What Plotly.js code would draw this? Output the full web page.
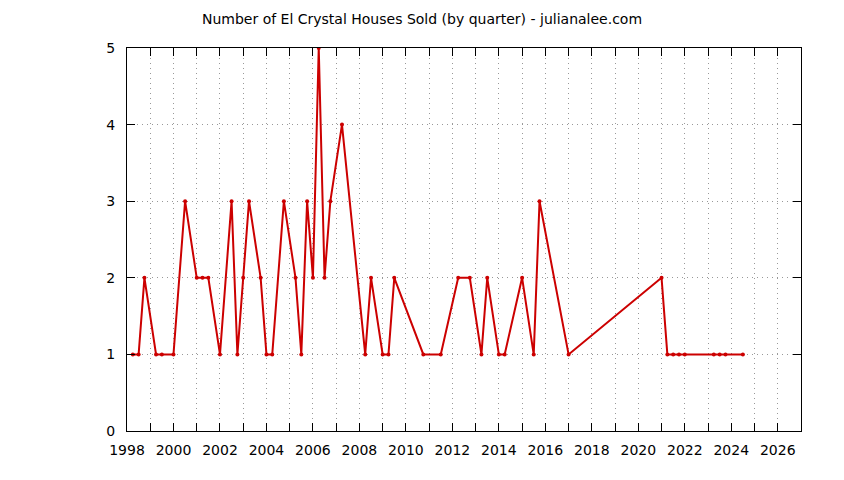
<!DOCTYPE html>
<html>
<head>
<meta charset="utf-8">
<script src="https://cdn.plot.ly/plotly-3.0.1.min.js"></script>
<style>
  html, body { margin: 0; padding: 0; background: white; }
  #chart { width: 844px; height: 480px; }
</style>
</head>
<body>
<div id="chart"></div>
<script>
// quarter (as decimal year) and houses sold
const quarters = [
  1998.25, 1998.5, 1998.75, 1999.25, 1999.5, 2000.0, 2000.5, 2001.0, 2001.25, 2001.5,
  2002.0, 2002.5, 2002.75, 2003.0, 2003.25, 2003.75, 2004.0, 2004.25, 2004.75, 2005.25,
  2005.5, 2005.75, 2006.0, 2006.25, 2006.5, 2006.75, 2007.25, 2008.25, 2008.5, 2009.0,
  2009.25, 2009.5, 2010.75, 2011.5, 2012.25, 2012.75, 2013.25, 2013.5, 2014.0, 2014.25,
  2015.0, 2015.5, 2015.75, 2017.0, 2021.0, 2021.25, 2021.5, 2021.75, 2022.0, 2023.25,
  2023.5, 2023.75, 2024.5
];
const sold = [
  1, 1, 2, 1, 1, 1, 3, 2, 2, 2,
  1, 3, 1, 2, 3, 2, 1, 1, 3, 2,
  1, 3, 2, 5, 2, 3, 4, 1, 2, 1,
  1, 2, 1, 1, 2, 2, 1, 2, 1, 1,
  2, 1, 3, 1, 2, 1, 1, 1, 1, 1,
  1, 1, 1
];

// ticks every year, labels every two years
const tickYears = [];
const tickLabels = [];
for (let y = 1998; y <= 2027; y++) {
  tickYears.push(y);
  tickLabels.push(y % 2 === 0 ? String(y) : '');
}

const trace = {
  type: 'scatter',
  mode: 'lines+markers',
  x: quarters,
  y: sold,
  line: { color: '#cc0000', width: 2 },
  marker: { color: '#cc0000', size: 4 },
  hoverinfo: 'x+y'
};

const layout = {
  width: 844,
  height: 480,
  margin: { t: 48, l: 127, r: 43, b: 49 },
  paper_bgcolor: 'white',
  plot_bgcolor: 'white',
  showlegend: false,
  font: { family: 'DejaVu Sans, sans-serif', size: 14, color: 'black' },
  title: {
    text: 'Number of El Crystal Houses Sold (by quarter) - julianalee.com',
    font: { family: 'DejaVu Sans, sans-serif', size: 14, color: 'black' },
    x: 0.5,
    xref: 'container',
    xanchor: 'center',
    y: 0.96,
    yref: 'container',
    yanchor: 'middle'
  },
  xaxis: {
    range: [1998, 2027],
    tickmode: 'array',
    tickvals: tickYears,
    ticktext: tickLabels,
    ticks: 'inside',
    ticklen: 8,
    tickcolor: 'black',
    showline: true,
    linecolor: 'black',
    linewidth: 1,
    mirror: 'ticks',
    showgrid: true,
    gridcolor: '#999999',
    griddash: '1px,4px',
    gridwidth: 1,
    zeroline: false,
    ticklabelstandoff: 6,
    fixedrange: true
  },
  yaxis: {
    range: [0, 5],
    tickmode: 'linear',
    tick0: 0,
    dtick: 1,
    ticks: 'inside',
    ticklen: 8,
    tickcolor: 'black',
    showline: true,
    linecolor: 'black',
    linewidth: 1,
    mirror: 'ticks',
    showgrid: true,
    gridcolor: '#999999',
    griddash: '1px,4px',
    gridwidth: 1,
    zeroline: false,
    ticklabelstandoff: 8,
    fixedrange: true
  }
};

Plotly.newPlot('chart', [trace], layout, { displayModeBar: false, staticPlot: true });
</script>
</body>
</html>
